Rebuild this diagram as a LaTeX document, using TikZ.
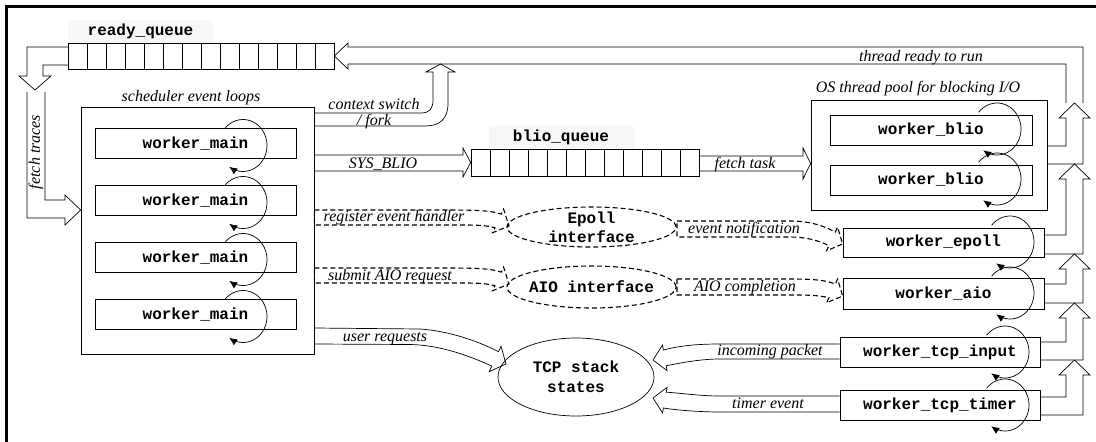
\documentclass[tikz,border=0pt]{standalone}
\usepackage{fontspec}
\setmainfont{Liberation Serif}
\setmonofont{Liberation Mono}
\usetikzlibrary{arrows.meta}

\newcommand{\monolab}{\fontsize{16}{18}\selectfont\ttfamily\bfseries}
\newcommand{\itlab}{\fontsize{16}{13}\selectfont\itshape}

% hollow arrow from a worker up into the column on the right
\newcommand{\riseup}[4]{%
	\draw[blk] (#1.east |- 0,#2) -- (1066,#2) -- (1066,#4+15) -- (1059,#4+15)
		-- (1074.5,#4) -- (1090,#4+15) -- (1083,#4+15) -- (1083,#3) -- (#1.east |- 0,#3);}

% round loop at the right end of a worker box
\newcommand{\selfloop}[2]{%
	\draw[loopy] plot[domain=-140:125, samples=40, smooth] ({#1+24*cos(\x)}, {#2+26*sin(\x)});}

\begin{document}
\begin{tikzpicture}[x=1pt, y=-1pt,
		blk/.style={line width=0.7pt},
		dsh/.style={line width=1.1pt, dash pattern=on 5pt off 3pt},
		wbox/.style={draw, line width=0.7pt, inner sep=0pt, minimum width=201pt, minimum height=30pt, font=\monolab},
		lab/.style={inner sep=0pt, font=\itlab, anchor=base},
		qname/.style={font=\monolab, fill=black!3, minimum width=145pt, minimum height=22pt, inner sep=0pt},
		loopy/.style={line width=0.7pt, -{Latex[length=8pt, width=7pt]}}]

	\useasboundingbox (0,0) rectangle (1096,442);
	\fill[white] (0,0) rectangle (1096,442);
	\draw[line width=3.5pt] (6.5,460) -- (6.5,6.5) -- (1110,6.5);

	% queues
	\node[qname] (rqname) at (140.5,31) {ready\_queue};
	\node[draw, blk, minimum width=266pt, minimum height=26pt, inner sep=0pt] (rq) at (201,56) {};
	\foreach \i in {1,...,13}
		\draw[blk] (68+19*\i,43) -- (68+19*\i,69);

	\node[qname] (bqname) at (561,137) {blio\_queue};
	\node[draw, blk, minimum width=228pt, minimum height=27pt, inner sep=0pt] (bq) at (585,162.5) {};
	\foreach \i in {1,...,11}
		\draw[blk] (471+19*\i,149) -- (471+19*\i,176);

	% scheduler event loops
	\node[draw, blk, minimum width=233pt, minimum height=247pt, inner sep=0pt] (sched) at (197.5,230.5) {};
	\node[lab] (schedname) at (191,101) {scheduler event loops};
	\foreach \i in {1,...,4} {
		\node[wbox] (main\i) at (195.5,86.5+57*\i) {worker\_main};
		\selfloop{243}{88.5+57*\i}
	}

	% thread pool
	\node[draw, blk, minimum width=236pt, minimum height=110pt, inner sep=0pt] (pool) at (929,155) {};
	\node[lab] (poolname) at (918,92) {OS thread pool for blocking I/O};
	\node[wbox, minimum width=202pt] (blio1) at (931,130) {worker\_blio};
	\node[wbox, minimum width=202pt] (blio2) at (931,180) {worker\_blio};
	\selfloop{997}{129}
	\selfloop{997}{179}

	% other workers
	\node[wbox, minimum height=29pt] (epoll) at (943.5,242.5) {worker\_epoll};
	\node[wbox, minimum height=31pt] (aio) at (943.5,293.5) {worker\_aio};
	\node[wbox, minimum width=200pt] (tcpin) at (940,352.5) {worker\_tcp\_input};
	\node[wbox, minimum width=200pt] (tcptm) at (940,405) {worker\_tcp\_timer};
	\selfloop{1010}{242}
	\selfloop{1010}{293}
	\selfloop{1005}{352}
	\selfloop{1005}{405}

	% interfaces and TCP state
	\node[font=\monolab, align=center] (epif) at (591.5,227) {Epoll\\[1pt]interface};
	\draw[dsh] (epif.center) ellipse[x radius=84.5pt, y radius=20pt];
	\node[font=\monolab] (aioif) at (591.5,287) {AIO interface};
	\draw[dsh] (aioif.center) ellipse[x radius=84.5pt, y radius=21pt];
	\node[font=\monolab, align=center] (tcp) at (576,377) {TCP stack\\[2pt]states};
	\draw[blk] (tcp.center) ellipse[x radius=78pt, y radius=39pt];

	% hollow arrows
	\draw[blk] (1066,103) -- (1066,64) -- (348,64) -- (348,69) -- (rq.east) -- (348,43) -- (348,47) -- (1083,47) -- (1083,103);
	\node[lab] (readylab) at (921,61) {thread ready to run};
	\riseup{pool}{146}{164}{103}
	\riseup{epoll}{235}{254}{164}
	\riseup{aio}{284}{303}{254}
	\riseup{tcpin}{342}{360}{303}
	\riseup{tcptm}{397}{415}{360}

	\draw[blk] (rq.west |- 0,47) -- (27,47) -- (27,76) -- (19,76) -- (35,90) -- (51,76) -- (43,76) -- (43,65) -- (rq.west |- 0,65);
	\draw[blk] (27,92) -- (27,218) -- (65,218) -- (65,225) -- (sched.west |- 0,210) -- (65,195) -- (65,200) -- (45,200) -- (45,92);
	\node[lab, anchor=center, rotate=90] (fetchlab) at (36,152) {fetch traces};

	\draw[blk] (sched.east |- 0,113) -- (421,113) .. controls (430,113) and (433,108) .. (433,100) -- (433,72) -- (426,72) -- (440.5,64) -- (455,72) -- (448,72) -- (448,103) .. controls (448,119) and (440,126) .. (425,126) -- (sched.east |- 0,126);
	\node[lab, anchor=center, align=center] (ctxlab) at (374,114) {context switch\\[3pt]/ fork};

	\draw[blk] (sched.east |- 0,155) -- (463,155) -- (463,148) -- (bq.west) -- (463,177) -- (463,171) -- (sched.east |- 0,171);
	\node[lab] (blilab) at (383,168) {SYS\_BLIO};
	\draw[blk] (bq.east |- 0,156) -- (803,156) -- (803,148) -- (pool.west |- 0,163.5) -- (803,179) -- (803,171) -- (bq.east |- 0,171);
	\node[lab] (tasklab) at (745,168) {fetch task};

	\draw[blk] (sched.east |- 0,328) -- (420,329) .. controls (450,331) and (480,342) .. (498.5,351.7) -- (501,346.2) -- (506,364) -- (489.2,371.6) -- (491.7,366.1) .. controls (470,356) and (440,345) .. (410,344.5) -- (sched.east |- 0,344);
	\node[lab] (userlab) at (385,341) {user requests};

	\draw[blk] (tcpin.west |- 0,344) -- (720,344) .. controls (690,344) and (675,347) .. (663.4,350) -- (662.5,345.1) -- (653,360) -- (667.1,370.7) -- (666.2,365.8) .. controls (680,363) and (700,359) .. (720,359) -- (tcpin.west |- 0,359);
	\node[lab] (inlab) at (770,355) {incoming packet};
	\draw[blk] (tcptm.west |- 0,396) -- (720,396) .. controls (700,396) and (680,393) .. (666.2,392.2) -- (667.1,387.3) -- (653,398) -- (662.5,412.9) -- (663.4,408) .. controls (675,410) and (700,412) .. (720,412) -- (tcptm.west |- 0,412);
	\node[lab] (tmlab) at (768,408) {timer event};

	% dashed arrows
	\draw[dsh] (sched.east |- 0,210) -- (440,210) .. controls (470,210) and (490,210) .. (501.3,214.1) -- (503.6,209.1) -- (509,226) -- (492.6,232.7) -- (494.9,227.7) .. controls (485,225) and (475,225) .. (460,225) -- (sched.east |- 0,225) -- cycle;
	\node[lab] (reglab) at (394,221) {register event handler};
	\draw[dsh] (sched.east |- 0,268) -- (440,268) .. controls (470,268) and (490,268) .. (501.3,272.1) -- (503.6,267.1) -- (509,284) -- (492.6,290.7) -- (494.9,285.7) .. controls (485,283) and (475,283) .. (460,283) -- (sched.east |- 0,283) -- cycle;
	\node[lab] (aioreqlab) at (390,280) {submit AIO request};

	\draw[dsh] (677,221) -- (790,221) .. controls (812,221) and (826,227) .. (835.3,232.1) -- (837.6,227.1) -- (epoll.west |- 0,244) -- (826.6,250.7) -- (828.9,245.7) .. controls (818,240) and (805,237) .. (790,237) -- (677,237) -- cycle;
	\node[lab] (notelab) at (744,233) {event notification};
	\draw[dsh] (677,279) -- (790,279) .. controls (812,279) and (826,280) .. (835.3,284.1) -- (837.6,279.1) -- (aio.west |- 0,296) -- (826.6,302.7) -- (828.9,297.7) .. controls (818,295) and (805,295) .. (790,295) -- (677,295) -- cycle;
	\node[lab] (donelab) at (745,291) {AIO completion};
\end{tikzpicture}
\end{document}
